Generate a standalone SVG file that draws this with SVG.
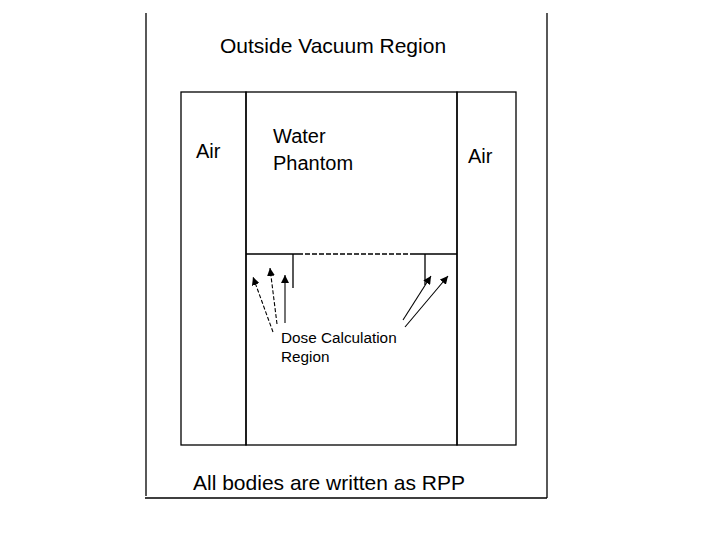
<svg xmlns="http://www.w3.org/2000/svg" width="720" height="540" viewBox="0 0 720 540">
<style>
.ln{stroke:#000;stroke-width:1.3;fill:none}
.ar{stroke:#000;stroke-width:1.1;fill:none;marker-end:url(#ah)}
.ds{stroke-dasharray:4 2}
text{font-family:"Liberation Sans",Arial,sans-serif;fill:#000}
</style>
<defs>
<marker id="ah" markerUnits="userSpaceOnUse" markerWidth="9" markerHeight="8" refX="8" refY="4" orient="auto">
<path d="M0,0 L8,4 L0,8 Z" fill="#000"/>
</marker>
</defs>
<rect width="720" height="540" fill="#fff"/>
<g id="outside">
<path class="ln" d="M146,13 V496 M547,13 V498 M145,498 H547"/>
<text x="220" y="53" font-size="21">Outside Vacuum Region</text>
<text x="193" y="490" font-size="21">All bodies are written as RPP</text>
</g>
<g id="air-left">
<rect class="ln" x="181" y="92" width="65" height="353"/>
<text x="196" y="158" font-size="20">Air</text>
</g>
<g id="water-phantom">
<rect class="ln" x="246" y="92" width="211" height="353"/>
<text x="273" y="143" font-size="20">Water</text>
<text x="273" y="170" font-size="20">Phantom</text>
</g>
<g id="air-right">
<rect class="ln" x="457" y="92" width="59" height="353"/>
<text x="468" y="163" font-size="20">Air</text>
</g>
<g id="dose-region">
<path class="ln" d="M246,254 H298 M410,254 H457 M293,254 V288 M425,254 V285"/>
<path class="ln" d="M298,254 H410" stroke-dasharray="5 2" stroke-width="1"/>
<text x="281" y="343" font-size="15.3">Dose Calculation</text>
<text x="281" y="362" font-size="15.3">Region</text>
</g>
<g id="connectors">
<line class="ar ds" x1="273" y1="332" x2="253" y2="277"/>
<line class="ar ds" x1="277" y1="324" x2="270" y2="268"/>
<line class="ar" x1="285" y1="323" x2="285" y2="275"/>
<line class="ar" x1="403" y1="320" x2="431" y2="276"/>
<line class="ar" x1="405" y1="327" x2="448" y2="276"/>
</g>
</svg>
